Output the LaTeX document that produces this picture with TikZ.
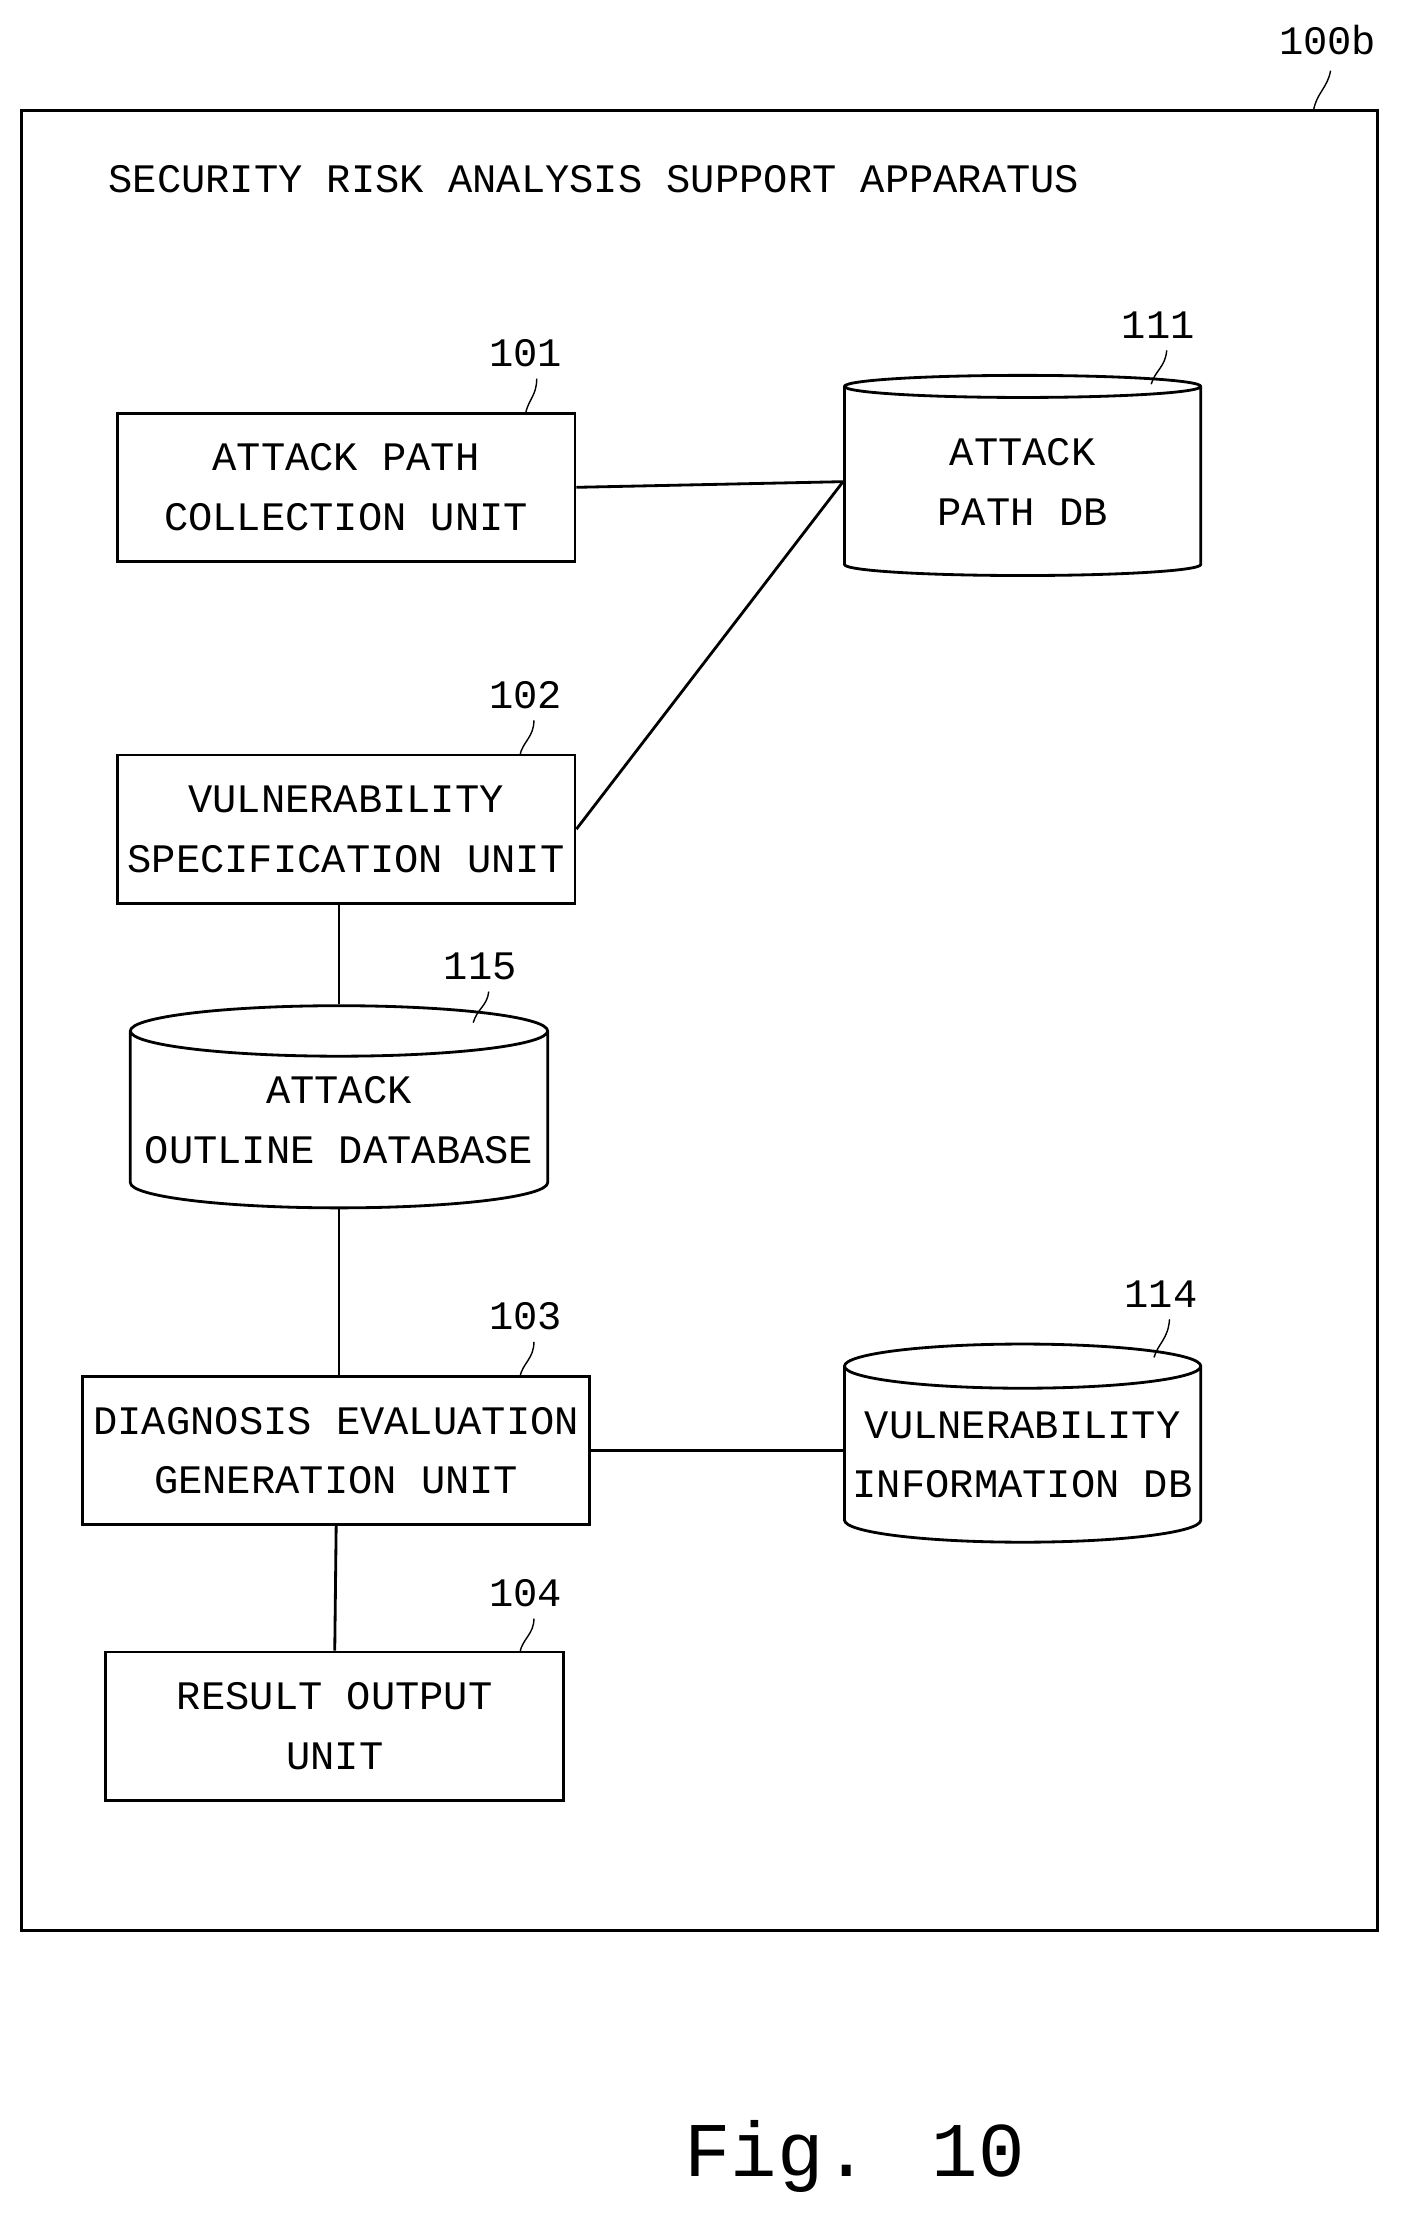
\documentclass[tikz,border=0pt]{standalone}
\usepackage{fontspec}
\setmainfont{Liberation Mono}
\usetikzlibrary{shapes.geometric}
\tikzset{
  unit/.style={draw, thick, align=center, inner sep=0pt, font=\fontsize{11.5}{17}\selectfont},
  db/.style={draw, thick, cylinder, shape border rotate=90, aspect=0.13, align=center, inner sep=0pt, font=\fontsize{11.5}{17}\selectfont},
  ref/.style={font=\fontsize{11.5}{14}\selectfont},
  link/.style={thick}
}
\begin{document}
\begin{tikzpicture}[x=0.01412cm, y=-0.01412cm]
\useasboundingbox (0,0) rectangle (993,1571);

% Apparatus frame
\draw[thick] (15,78) rectangle (975,1367);
\node[ref] (n100b) at (940,28) {100b};
\draw (930,78) .. controls (932,66) and (940,62) .. (942,50);
\node[ref, anchor=west] (title) at (68,127) {SECURITY RISK ANALYSIS SUPPORT APPARATUS};

% Units
\node[unit, minimum width=4.575cm, minimum height=1.48cm] (u101) at (245,345) {ATTACK PATH\\COLLECTION UNIT};
\node[unit, minimum width=4.575cm, minimum height=1.48cm] (u102) at (245,587) {VULNERABILITY\\SPECIFICATION UNIT};
\node[unit, minimum width=5.07cm, minimum height=1.48cm] (u103) at (238,1027) {DIAGNOSIS EVALUATION\\GENERATION UNIT};
\node[unit, minimum width=4.575cm, minimum height=1.48cm] (u104) at (237,1222) {RESULT OUTPUT\\UNIT};

% Databases
\node[db, minimum width=3.56cm, minimum height=2.0cm] (d111) at (724,341) {ATTACK\\PATH DB};
\node[db, minimum width=4.17cm, minimum height=2.02cm] (d115) at (240,793) {ATTACK\\OUTLINE DATABASE};
\node[db, minimum width=3.56cm, minimum height=1.98cm] (d114) at (724,1030) {VULNERABILITY\\INFORMATION DB};

% Reference numerals
\node[ref] (r101) at (372,250) {101};
\draw (372,293) .. controls (374,283) and (380,280) .. (380,268);
\node[ref] (r102) at (372,492) {102};
\draw (368,535) .. controls (370,525) and (378,522) .. (378,510);
\node[ref] (r103) at (372,932) {103};
\draw (368,975) .. controls (370,965) and (378,962) .. (378,950);
\node[ref] (r104) at (372,1128) {104};
\draw (368,1170) .. controls (370,1160) and (378,1157) .. (378,1146);
\node[ref] (r111) at (820,230) {111};
\draw (815,272) .. controls (818,262) and (825,260) .. (826,248);
\node[ref] (r115) at (340,684) {115};
\draw (335,724) .. controls (338,714) and (345,712) .. (346,702);
\node[ref] (r114) at (822,916) {114};
\draw (817,961) .. controls (820,951) and (827,948) .. (828,934);

% Connections
\draw[link] (u101.east) -- (d111.west);
\draw[link] (u102.east) -- (d111.west);
\draw[link] (u102.south -| d115.north) -- (d115.north);
\draw[link] (d115.south) -- (d115.south |- u103.north);
\draw[link] (u103.east) -- (u103.east -| d114.west);
\draw[link] (u103.south) -- (u104.north);

\node[font=\fontsize{22}{26}\selectfont] (fig) at (605,1527) {Fig. 10};
\end{tikzpicture}
\end{document}
